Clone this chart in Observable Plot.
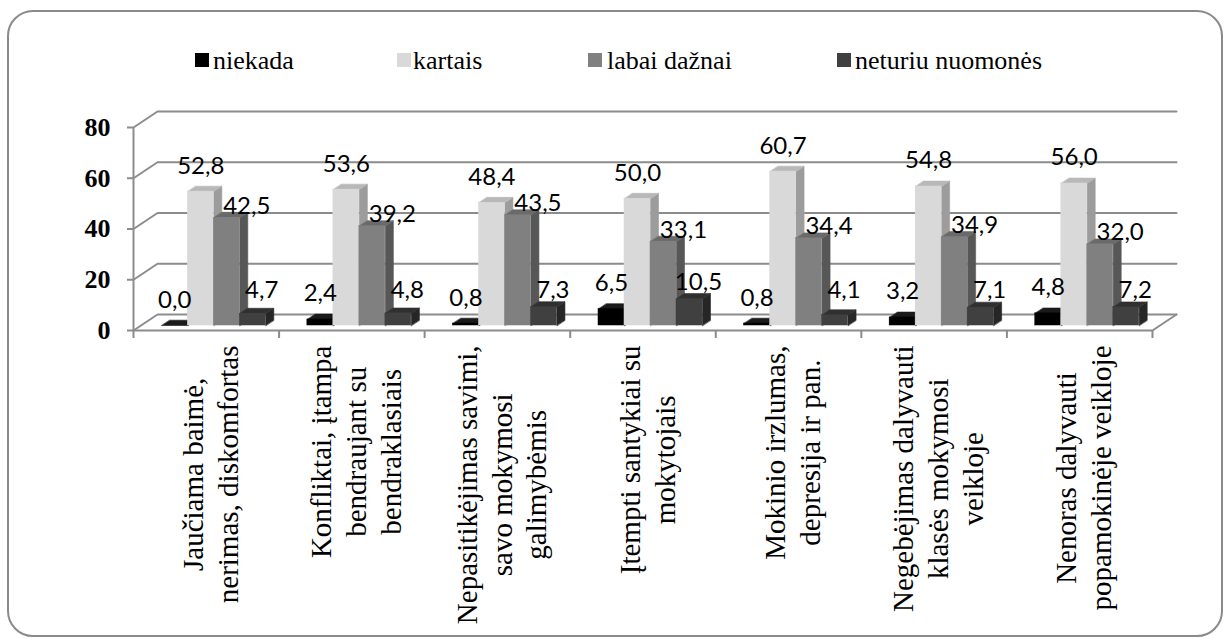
<!DOCTYPE html>
<html><head><meta charset="utf-8">
<script src="https://cdn.jsdelivr.net/npm/d3@7"></script>
<script src="https://cdn.jsdelivr.net/npm/@observablehq/plot@0.6"></script>
<style>
html,body{margin:0;padding:0;background:#fff;overflow:hidden;}
#wrap{position:relative;width:1227px;height:638px;}
#frame{position:absolute;left:7px;top:10px;width:1216px;height:627px;box-sizing:border-box;border:2px solid #8a8a8a;border-radius:26px;}
#chart{position:absolute;left:0;top:0;}
.sw{position:absolute;top:53px;width:14px;height:14px;}
.lt{position:absolute;top:46px;height:30px;line-height:30px;font-family:"Liberation Serif","Times New Roman",serif;font-size:26px;font-weight:normal;color:#000;white-space:nowrap;}
</style></head><body>
<div id="wrap"><div id="frame"></div><div id="chart"></div><div id="legend"></div></div>
<script>
// ---- data ----
const categories = [
  "Jaučiama baimė,\nnerimas, diskomfortas",
  "Konfliktai, įtampa\nbendraujant su\nbendraklasiais",
  "Nepasitikėjimas savimi,\nsavo mokymosi\ngalimybėmis",
  "Įtempti santykiai su\nmokytojais",
  "Mokinio irzlumas,\ndepresija ir pan.",
  "Negebėjimas dalyvauti\nklasės mokymosi\nveikloje",
  "Nenoras dalyvauti\npopamokinėje veikloje"
];
const seriesNames = ["niekada", "kartais", "labai dažnai", "neturiu nuomonės"];
const niekada = [0.0, 2.4, 0.8, 6.5, 0.8, 3.2, 4.8];
const kartais = [52.8, 53.6, 48.4, 50.0, 60.7, 54.8, 56.0];
const labaiDaznai = [42.5, 39.2, 43.5, 33.1, 34.4, 34.9, 32.0];
const neturiuNuomones = [4.7, 4.8, 7.3, 10.5, 4.1, 7.1, 7.2];
const yTicks = [0, 20, 40, 60, 80];

// ---- styles ----
const frontColors = ["#000000", "#d9d9d9", "#808080", "#404040"];
const topColors   = ["#1a1a1a", "#b8b8b8", "#6a6a6a", "#303030"];
const sideColors  = ["#0d0d0d", "#9c9c9c", "#575757", "#262626"];
const labelDx = [0, 0, 20, 9];
const labelDy = [-18, -18, -4, -9];
const gridColor = "#8c8c8c";

// ---- legend ----
const legendSwatchLeft = [195, 397, 588, 837];
const legendTextLeft = [213, 413, 607, 855];
const legend = document.getElementById("legend");
seriesNames.forEach((n, s) => {
  const sw = document.createElement("div");
  sw.className = "sw"; sw.style.left = legendSwatchLeft[s] + "px"; sw.style.background = frontColors[s];
  const t = document.createElement("div");
  t.className = "lt"; t.style.left = legendTextLeft[s] + "px"; t.textContent = n;
  legend.appendChild(sw); legend.appendChild(t);
});

// ---- 3D projection (data units) ----
const N = categories.length;
const DX = 0.165, DY = 6.3;       // full floor depth
const F0 = 0.31, F1 = 0.645;      // bar front / back depth fractions
const GAP = 0.143, BW = 0.1786;   // group gap & bar width (category units)
const seriesValues = [niekada, kartais, labaiDaznai, neturiuNuomones];

const rows = [];
categories.forEach((c, i) => seriesValues.forEach((vals, s) => {
  const v = vals[i];
  const x0 = i + GAP + s * BW + F0 * DX, x1 = x0 + BW;
  const y0 = F0 * DY, y1 = v + F0 * DY;
  const bx = (F1 - F0) * DX, by = (F1 - F0) * DY;
  rows.push({id: i + "-" + s, i, s, v, x0, x1, y0, y1, bx, by});
}));

const sidePts = [], topPts = [];
rows.forEach(r => {
  [[r.x1, r.y0], [r.x1, r.y1], [r.x1 + r.bx, r.y1 + r.by], [r.x1 + r.bx, r.y0 + r.by]]
    .forEach(([x, y]) => sidePts.push({id: r.id, s: r.s, x, y}));
  [[r.x0, r.y1], [r.x1, r.y1], [r.x1 + r.bx, r.y1 + r.by], [r.x0 + r.bx, r.y1 + r.by]]
    .forEach(([x, y]) => topPts.push({id: r.id, s: r.s, x, y}));
});

const gridPts = [];
yTicks.forEach(t => {
  gridPts.push({g: "g" + t, x: 0, y: t}, {g: "g" + t, x: DX, y: t + DY}, {g: "g" + t, x: N + DX, y: t + DY});
});
gridPts.push({g: "floorR", x: N, y: 0}, {g: "floorR", x: N + DX, y: DY});

const fmt = v => v.toFixed(1).replace(".", ",");

const ctx = document.createElement("canvas").getContext("2d");
ctx.font = '29px "Liberation Serif"';

const marks = [
  Plot.line(gridPts, {x: "x", y: "y", z: "g", stroke: gridColor, strokeWidth: 2}),
  Plot.ruleY([0], {x1: 0, x2: N, stroke: gridColor, strokeWidth: 2}),
  Plot.ruleX([0], {y1: 0, y2: 80, stroke: gridColor, strokeWidth: 2}),
  Plot.axisY({ticks: yTicks, tickSize: 6, tickPadding: 17, stroke: gridColor, strokeWidth: 2, fill: "black",
    label: null, fontSize: 26, fontWeight: "bold", fontFamily: "Liberation Serif"}),
  Plot.axisX({ticks: d3.range(N + 1), tickSize: 8, tickFormat: () => "", stroke: gridColor, strokeWidth: 2, label: null}),
];
seriesNames.forEach((n, s) => marks.push(
  Plot.line(sidePts.filter(d => d.s === s), {x: "x", y: "y", z: "id", curve: "linear-closed",
    fill: sideColors[s], stroke: sideColors[s], strokeWidth: 0.6})));
seriesNames.forEach((n, s) => marks.push(
  Plot.line(topPts.filter(d => d.s === s), {x: "x", y: "y", z: "id", curve: "linear-closed",
    fill: topColors[s], stroke: topColors[s], strokeWidth: 0.6})));
seriesNames.forEach((n, s) => marks.push(
  Plot.rect(rows.filter(d => d.s === s), {x1: "x0", x2: "x1", y1: "y0", y2: "y1",
    fill: frontColors[s], stroke: frontColors[s], strokeWidth: 0.4})));
seriesNames.forEach((n, s) => marks.push(
  Plot.text(rows.filter(d => d.s === s), {
    x: d => (d.x0 + d.x1) / 2,
    y: d => (s === 3 ? Math.max(d.v, 7.5) : d.v) + F0 * DY,
    text: d => fmt(d.v), dx: labelDx[s], dy: labelDy[s], lineAnchor: "bottom",
    fontSize: 24, fontFamily: "Lato", fontWeight: "normal", fill: "black"})));
categories.forEach((c, i) => {
  const w = Math.max(...c.split("\n").map(l => ctx.measureText(l).width));
  marks.push(Plot.text([c], {x: i + 0.5, y: 0, text: d => d, rotate: -90, textAnchor: "middle",
    lineAnchor: "middle", lineHeight: 1.2, dx: 3, dy: 15 + w / 2,
    fontSize: 29, fontFamily: "Liberation Serif", fontWeight: "normal", fill: "black"}));
});

const chart = Plot.plot({
  width: 1227, height: 638,
  marginLeft: 133, marginRight: 51, marginTop: 111, marginBottom: 308,
  x: {type: "linear", domain: [0, N + DX]},
  y: {type: "linear", domain: [0, 80 + DY]},
  style: {background: "transparent", fontFamily: "Liberation Serif", fontSize: "26px", fontWeight: "bold"},
  marks
});
document.getElementById("chart").appendChild(chart);
</script>
</body></html>
